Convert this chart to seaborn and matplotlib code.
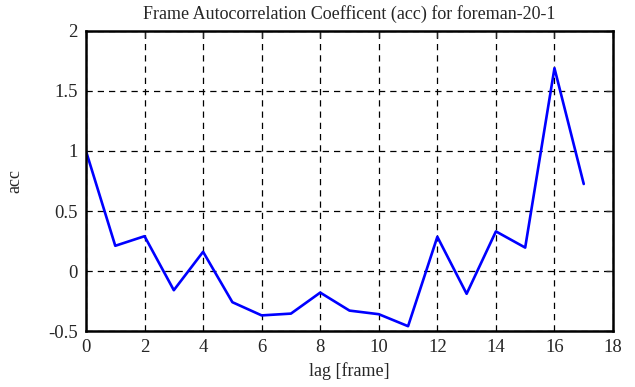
import numpy as np
import pandas as pd
import matplotlib
matplotlib.use("Agg")
import matplotlib.pyplot as plt
import seaborn as sns

# values
lags = list(range(18))
acc = [1.0, 0.21, 0.29, -0.16, 0.16, -0.26, -0.37, -0.355, -0.18, -0.33,
       -0.36, -0.46, 0.285, -0.19, 0.33, 0.195, 1.69, 0.725]
xticks = list(range(0, 19, 2))
yticks = [-0.5, 0, 0.5, 1, 1.5, 2]
ytick_labels = ["-0.5", "0", "0.5", "1", "1.5", "2"]

sns.set_style("white")
plt.rcParams["font.family"] = ["Liberation Serif", "DejaVu Serif"]

df = pd.DataFrame({"lag": lags, "acc": acc})

fig = plt.figure(figsize=(6.35, 3.87), dpi=100)
ax = fig.add_axes([0.1354, 0.1447, 0.8300, 0.7752])

sns.lineplot(data=df, x="lag", y="acc", ax=ax, color="#0000ff", linewidth=1.9)

ax.set_xlim(0, 18)
ax.set_ylim(-0.5, 2)
ax.set_xticks(xticks)
ax.set_xticklabels([str(t) for t in xticks], fontsize=13.5)
ax.set_yticks(yticks)
ax.set_yticklabels(ytick_labels, fontsize=13.5)
ax.tick_params(direction="in", length=5, width=1, top=True, right=True, pad=6)

ax.grid(True, color="black", linestyle=(0, (5, 4)), linewidth=0.9)
for s in ax.spines.values():
    s.set_linewidth(1.8)
    s.set_color("black")

ax.set_title("Frame Autocorrelation Coefficent (acc) for foreman-20-1", fontsize=13, pad=9)
ax.set_xlabel("lag [frame]", fontsize=13, labelpad=4)
ax.set_ylabel("acc", fontsize=13, labelpad=18)

fig.savefig("out.png", dpi=100)
